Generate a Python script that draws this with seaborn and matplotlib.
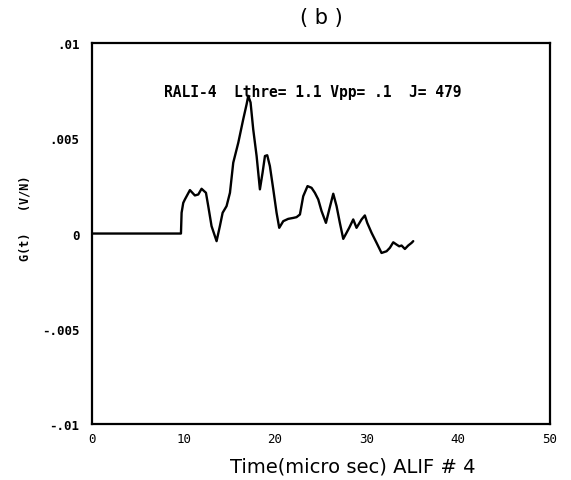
import matplotlib
matplotlib.use("Agg")
import matplotlib.pyplot as plt
import seaborn as sns
import pandas as pd

# -----------------------------
# Data
# -----------------------------
time_us = [0.0, 9.72, 9.79, 9.97, 10.15, 10.70, 11.24, 11.61, 11.97, 12.45,
           12.70, 13.06, 13.61, 13.97, 14.27, 14.70, 15.07, 15.43, 15.98, 16.52,
           16.89, 17.07, 17.32, 17.61, 17.98, 18.34, 18.63, 18.89, 19.14, 19.43,
           19.80, 20.16, 20.45, 20.89, 21.43, 21.98, 22.34, 22.71, 23.07, 23.54,
           23.98, 24.34, 24.71, 25.07, 25.55, 25.91, 26.35, 26.71, 27.07, 27.44,
           27.80, 28.09, 28.53, 28.89, 29.44, 29.80, 30.06, 30.53, 31.08, 31.62,
           32.17, 32.53, 32.90, 33.26, 33.55, 33.81, 34.17, 34.53, 34.90, 35.08]
g_t = [0.0, 0.0, 0.00109, 0.00161, 0.00179, 0.00228, 0.00200, 0.00205, 0.00235, 0.00214,
       0.00144, 0.00039, -0.00040, 0.00039, 0.00109, 0.00144, 0.00214, 0.00372, 0.00477, 0.00600,
       0.00679, 0.00723, 0.00688, 0.00547, 0.00407, 0.00232, 0.00319, 0.00407, 0.00411, 0.00354,
       0.00232, 0.00109, 0.00030, 0.00065, 0.00077, 0.00082, 0.00086, 0.00100, 0.00196, 0.00249,
       0.00240, 0.00214, 0.00179, 0.00118, 0.00056, 0.00126, 0.00209, 0.00144, 0.00056, -0.00028,
       0.00004, 0.00030, 0.00074, 0.00030, 0.00074, 0.00095, 0.00056, 0.00004, -0.00049, -0.00102,
       -0.00093, -0.00075, -0.00046, -0.00058, -0.00067, -0.00063, -0.00081, -0.00063, -0.00049, -0.00040]

x_ticks = [0, 10, 20, 30, 40, 50]
y_ticks = [-0.01, -0.005, 0, 0.005, 0.01]
y_tick_labels = ["-.01", "-.005", "0", ".005", ".01"]

df = pd.DataFrame({"time": time_us, "g": g_t})

# -----------------------------
# Plot
# -----------------------------
sns.set_style("white")
plt.rcParams["text.color"] = "black"
plt.rcParams["axes.labelcolor"] = "black"
plt.rcParams["xtick.color"] = "black"
plt.rcParams["ytick.color"] = "black"
mono = "DejaVu Sans Mono"

fig = plt.figure(figsize=(5.71, 4.81), dpi=100)
ax = fig.add_axes([0.161, 0.1164, 0.802, 0.792])

sns.lineplot(data=df, x="time", y="g", color="black", linewidth=1.7, ax=ax)

ax.set_xlim(0, 50)
ax.set_ylim(-0.01, 0.01)
ax.set_xticks(x_ticks)
ax.set_xticklabels([str(v) for v in x_ticks], fontsize=9, family=mono)
ax.set_yticks(y_ticks)
ax.set_yticklabels(y_tick_labels, fontsize=9, family=mono, fontweight="bold")
ax.tick_params(direction="in", length=4, width=1.2, color="black")
ax.tick_params(axis="y", pad=9)
ax.tick_params(axis="x", pad=6)

for side in ax.spines.values():
    side.set_color("black")
    side.set_linewidth(1.6)

ax.set_xlabel("Time(micro sec) ALIF # 4", fontsize=14, va="center")
ax.xaxis.set_label_coords(0.57, -0.11)
ax.set_ylabel("G(t)   (V/N)", fontsize=8.5, family=mono, fontweight="bold", va="center")
ax.yaxis.set_label_coords(-0.146, 0.543)

ax.text(0.5, 1.068, "( b )", transform=ax.transAxes, ha="center", va="center", fontsize=15)
ax.text(24.1, 0.00745, "RALI-4  Lthre= 1.1 Vpp= .1  J= 479", ha="center", va="center",
        fontsize=10.5, family=mono, fontweight="bold")

fig.savefig("out.png", dpi=100)
